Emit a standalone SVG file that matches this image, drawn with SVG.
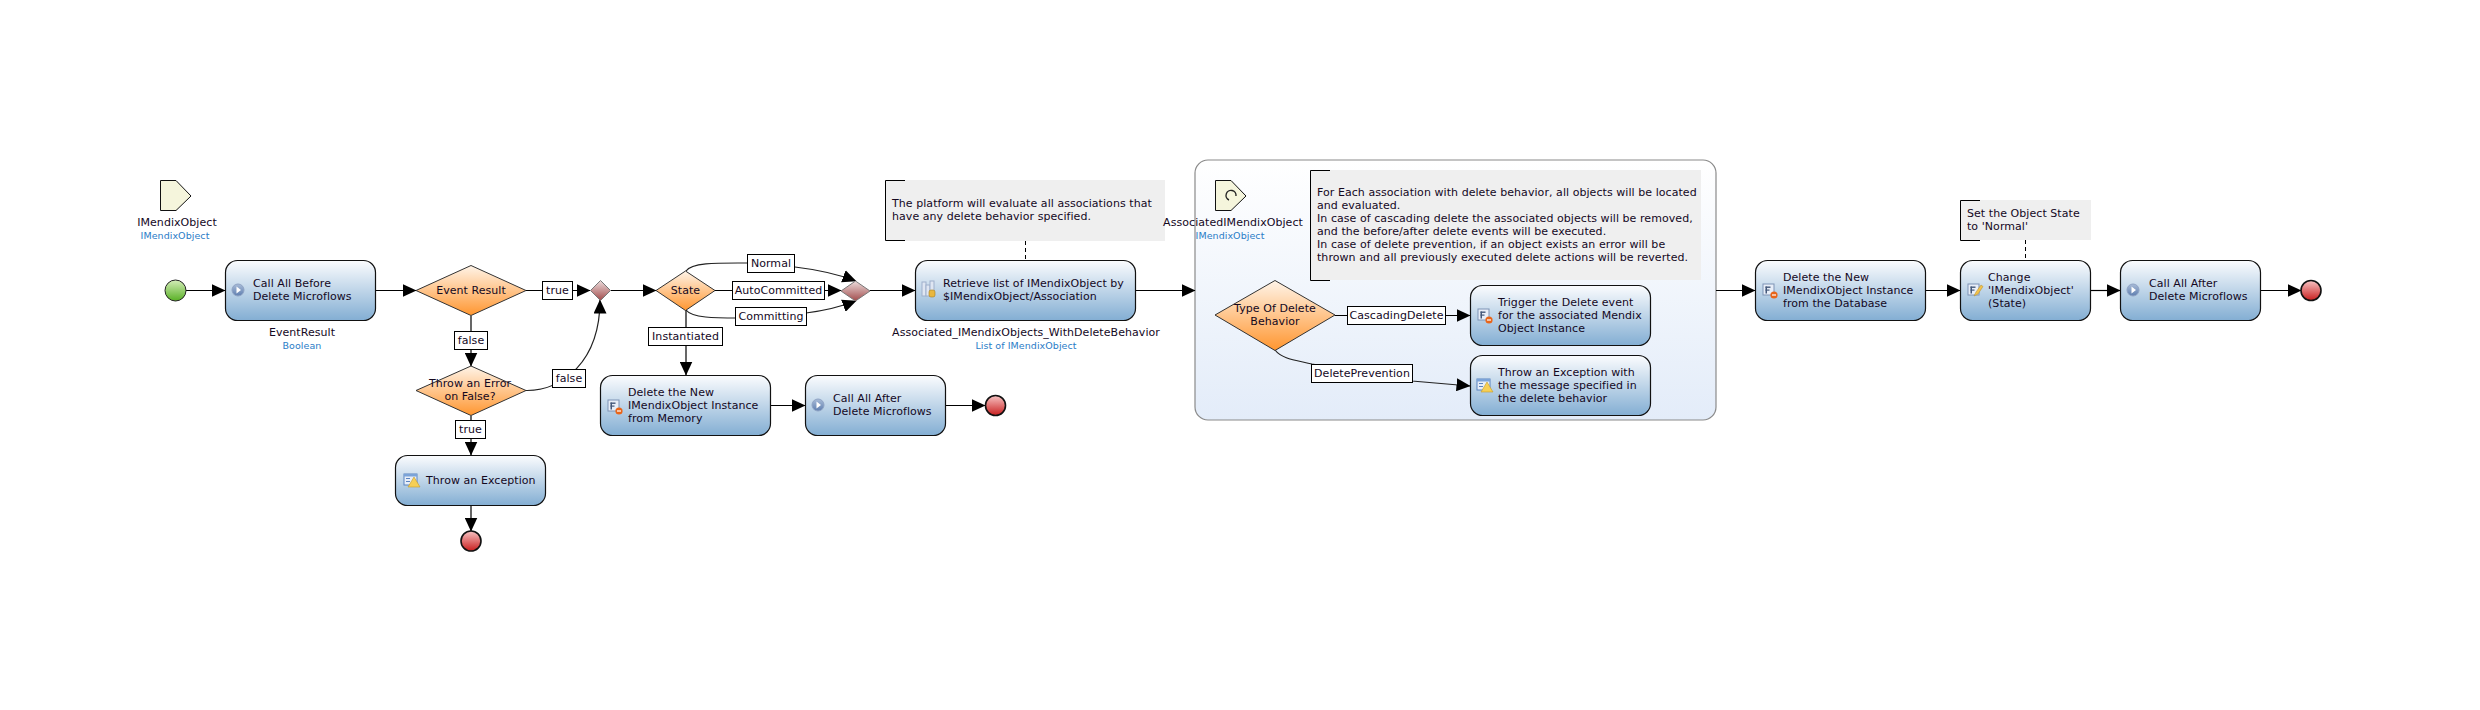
<svg xmlns="http://www.w3.org/2000/svg" width="2480" height="710" viewBox="0 0 2480 710">
<style>
text{font-family:"DejaVu Sans",sans-serif;font-size:11px;letter-spacing:.06px;fill:#14081e}
.c{text-anchor:middle}
.t{font-size:9.5px;fill:#2a7cc7;text-anchor:middle}
.act{fill:url(#ga);stroke:#111;stroke-width:1.2}
.dec{fill:url(#gd);stroke:#333;stroke-width:1}
.mrg{fill:url(#gm);stroke:#777;stroke-width:1}
.start{fill:url(#gs);stroke:#222;stroke-width:1}
.end{fill:url(#ge);stroke:#111;stroke-width:1.6}
.par{fill:#f5f5dc;stroke:#111;stroke-width:1}
.lab{fill:#fff;stroke:#000;stroke-width:1}
.note{fill:#efefef}
.br{fill:none;stroke:#000;stroke-width:1}
.e{fill:none;stroke:#000;stroke-width:1.2;marker-end:url(#arr)}
.cv{fill:none;stroke:#222;stroke-width:1.2;marker-end:url(#arr)}
.dash{stroke:#000;stroke-width:1;stroke-dasharray:4 3}
</style>
<defs>
<linearGradient id="ga" x1="0" y1="0" x2="0" y2="1"><stop offset="0" stop-color="#fbfcfe"/><stop offset="1" stop-color="#83aed3"/></linearGradient>
<linearGradient id="gd" x1="0" y1="0" x2="0" y2="1"><stop offset="0" stop-color="#fff4e8"/><stop offset="1" stop-color="#ff9630"/></linearGradient>
<linearGradient id="gm" x1="0" y1="0" x2="0" y2="1"><stop offset="0" stop-color="#ecdcdc"/><stop offset="1" stop-color="#a24c4c"/></linearGradient>
<linearGradient id="gs" x1="0" y1="0" x2="0" y2="1"><stop offset="0" stop-color="#d4edb8"/><stop offset="1" stop-color="#58b024"/></linearGradient>
<linearGradient id="ge" x1="0" y1="0" x2="0" y2="1"><stop offset="0" stop-color="#f8c4c4"/><stop offset="1" stop-color="#c81e1e"/></linearGradient>
<linearGradient id="gc" x1="0" y1="0" x2="0" y2="1"><stop offset="0" stop-color="#ffffff"/><stop offset="1" stop-color="#e3ecf9"/></linearGradient>
<linearGradient id="gi" x1="0" y1="0" x2="0" y2="1"><stop offset="0" stop-color="#a9bcd8"/><stop offset="1" stop-color="#5f7fb0"/></linearGradient>
<marker id="arr" markerUnits="userSpaceOnUse" markerWidth="14" markerHeight="13" refX="13.5" refY="6.5" orient="auto"><path d="M0 0L14 6.500L0 13Z" fill="#000"/></marker>
<g id="i-call"><circle r="6" fill="url(#gi)" stroke="#8fa3c4"/><path d="M-1.5-3.5L3 0L-1.5 3.5Z" fill="#fff"/></g>
<g id="i-doc"><rect x="-6" y="-6" width="11" height="11" fill="#e8eef8" stroke="#7f93b5"/><rect x="-3.5" y="-3.5" width="5" height="1.4" fill="#44587a"/><rect x="-3.5" y="-3.5" width="1.5" height="7" fill="#44587a"/><rect x="-3.5" y="-0.5" width="4" height="1.2" fill="#44587a"/></g>
<g id="i-del"><use href="#i-doc"/><circle cx="5" cy="5" r="3.6" fill="#e8651a"/><rect x="3" y="4.4" width="4" height="1.2" fill="#fff"/></g>
<g id="i-chg"><use href="#i-doc"/><path d="M0 6L2 2L7-5L9-3.5L4 4Z" fill="#f3c24a" stroke="#b08a2a" stroke-width=".5"/></g>
<g id="i-db"><rect x="-6" y="-8" width="4" height="14" fill="#dfe6f2" stroke="#9fb0cb"/><rect x="-2" y="-5" width="4" height="11" fill="#dfe6f2" stroke="#9fb0cb"/><rect x="2" y="-9" width="4" height="15" fill="#dfe6f2" stroke="#9fb0cb"/><rect x="1" y="0" width="6" height="7" rx="2" fill="#e9b73f" stroke="#a9801f" stroke-width=".6"/></g>
<g id="i-exc"><rect x="-7" y="-6" width="13" height="11" fill="#e8eef8" stroke="#5b84c0"/><rect x="-7" y="-6" width="13" height="2.5" fill="#7ba3d8"/><rect x="-5" y="-2" width="4" height="1" fill="#5b84c0"/><rect x="-5" y="1" width="4" height="1" fill="#5b84c0"/><path d="M3-3L9 7L-3 7Z" fill="#f6cf55" stroke="#c39a2c" stroke-width=".6"/></g>
</defs>

<g id="container"><rect x="1195" y="160" width="521" height="260" rx="13" fill="url(#gc)" stroke="#8a8a8a" stroke-width="1.2"/></g>

<g id="connectors">
<path class="e" d="M185 290.5H225"/>
<path class="e" d="M376 290.5H416"/>
<path class="e" d="M526 290.5H590"/>
<path class="e" d="M471 316V366"/>
<path class="e" d="M471 416V455"/>
<path class="e" d="M471 506V531"/>
<path class="cv" d="M526 390.5C562 391 600 362 600 300"/>
<path class="e" d="M611 290.5H656"/>
<path class="cv" d="M686 271C692 262 720 263 750 263L795 267C820 270 840 275 856 281"/>
<path class="e" d="M715 290.5H841"/>
<path class="cv" d="M686 310C692 318 715 318 738 318L806 313C822 311 840 307 856 301"/>
<path class="e" d="M686 310V375"/>
<path class="e" d="M870 290.5H915"/>
<path class="e" d="M771 405.5H805"/>
<path class="e" d="M946 405.5H985"/>
<path class="e" d="M1135 290.5H1195"/>
<path class="e" d="M1335 315.5H1470"/>
<path class="cv" d="M1275 350C1282 359 1295 360 1312 364L1412 381L1470 386"/>
<path class="e" d="M1716 290.5H1755"/>
<path class="e" d="M1926 290.5H1960"/>
<path class="e" d="M2091 290.5H2120"/>
<path class="e" d="M2260 290.5H2301"/>
<path class="dash" d="M1025.5 241V260"/>
<path class="dash" d="M2025.5 240V260"/>
<g id="edge-labels">
<rect class="lab" x="542.5" y="281.5" width="30" height="18"/><text class="c" x="557.5" y="294">true</text>
<rect class="lab" x="454.5" y="331.5" width="33" height="18"/><text class="c" x="471" y="344">false</text>
<rect class="lab" x="552.5" y="369.5" width="33" height="18"/><text class="c" x="569" y="382">false</text>
<rect class="lab" x="455.5" y="420.5" width="30" height="18"/><text class="c" x="470.5" y="433">true</text>
<rect class="lab" x="747.5" y="254.5" width="47" height="18"/><text class="c" x="771" y="267">Normal</text>
<rect class="lab" x="732.5" y="281.5" width="92" height="18"/><text class="c" x="778.5" y="294">AutoCommitted</text>
<rect class="lab" x="735.5" y="307.5" width="71" height="18"/><text class="c" x="771" y="320">Committing</text>
<rect class="lab" x="648.5" y="327.5" width="74" height="18"/><text class="c" x="685.5" y="340">Instantiated</text>
<rect class="lab" x="1347.5" y="306.5" width="98" height="18"/><text class="c" x="1396.5" y="319">CascadingDelete</text>
<rect class="lab" x="1311.5" y="364.5" width="101" height="18"/><text class="c" x="1362" y="377">DeletePrevention</text>
</g>
</g>

<g id="param-object"><path class="par" d="M160.5 180.5H176L191 196L176 210.5H160.5Z"/><text class="c" x="177" y="226">IMendixObject</text><text class="t" x="175" y="239">IMendixObject</text></g>
<g id="start"><circle class="start" cx="175.500" cy="290.500" r="10.500"/></g>
<g id="call-before"><rect class="act" x="225.5" y="260.5" width="150" height="60" rx="12"/><use href="#i-call" x="238" y="290"/><text x="253" y="287">Call All Before</text><text x="253" y="300">Delete Microflows</text><text class="c" x="302" y="336">EventResult</text><text class="t" x="302" y="349">Boolean</text></g>
<g id="dec-event"><path class="dec" d="M471 265.500L526 290.500L471 315.500L416 290.500Z"/><text class="c" x="471" y="294">Event Result</text></g>
<g id="merge-1"><path class="mrg" d="M600.500 280.500L610.500 290.500L600.500 300.500L590.500 290.500Z"/></g>
<g id="dec-throw"><path class="dec" d="M471 366L526 390.500L471 415.500L416 390.500Z"/><text class="c" x="470" y="387">Throw an Error</text><text class="c" x="470" y="400">on False?</text></g>
<g id="throw-exc"><rect class="act" x="395.500" y="455.500" width="150" height="50" rx="12"/><use href="#i-exc" x="411" y="480"/><text x="426" y="484">Throw an Exception</text></g>
<g id="end-1"><circle class="end" cx="471" cy="541" r="10"/></g>
<g id="dec-state"><path class="dec" d="M685.500 271L715 290.500L685.500 310.500L656 290.500Z"/><text class="c" x="685.500" y="294">State</text></g>
<g id="merge-2"><path class="mrg" d="M855.500 281L870 291L855.500 301L841 291Z"/></g>
<g id="delete-memory"><rect class="act" x="600.500" y="375.500" width="170" height="60" rx="12"/><use href="#i-del" x="614" y="406"/><text x="628" y="396">Delete the New</text><text x="628" y="409">IMendixObject Instance</text><text x="628" y="422">from Memory</text></g>
<g id="call-after-1"><rect class="act" x="805.500" y="375.500" width="140" height="60" rx="12"/><use href="#i-call" x="818" y="405"/><text x="833" y="402">Call All After</text><text x="833" y="415">Delete Microflows</text></g>
<g id="end-2"><circle class="end" cx="995.500" cy="405.500" r="10"/></g>
<g id="note-1"><rect class="note" x="885" y="180" width="280" height="61"/><path class="br" d="M905 180.500H885.500V240.500H905"/><text x="892" y="207">The platform will evaluate all associations that</text><text x="892" y="220">have any delete behavior specified.</text></g>
<g id="retrieve"><rect class="act" x="915.500" y="260.500" width="220" height="60" rx="12"/><use href="#i-db" x="928" y="290"/><text x="943" y="287">Retrieve list of IMendixObject by</text><text x="943" y="300">$IMendixObject/Association</text><text class="c" x="1026" y="336">Associated_IMendixObjects_WithDeleteBehavior</text><text class="t" x="1026" y="349">List of IMendixObject</text></g>
<g id="iterator"><path class="par" d="M1215.500 180.500H1231L1246 196L1231 210.500H1215.500Z"/><path d="M1236 196A5 5 0 1 0 1229 200" fill="none" stroke="#222" stroke-width="1.4"/><text class="c" x="1233" y="226">AssociatedIMendixObject</text><text class="t" x="1230" y="239">IMendixObject</text></g>
<g id="note-2"><rect class="note" x="1310" y="170" width="391" height="110"/><path class="br" d="M1330 170.500H1310.500V280.500H1330"/><text x="1317" y="196">For Each association with delete behavior, all objects will be located</text><text x="1317" y="209">and evaluated.</text><text x="1317" y="222">In case of cascading delete the associated objects will be removed,</text><text x="1317" y="235">and the before/after delete events will be executed.</text><text x="1317" y="248">In case of delete prevention, if an object exists an error will be</text><text x="1317" y="261">thrown and all previously executed delete actions will be reverted.</text></g>
<g id="dec-type"><path class="dec" d="M1275 280.500L1335 315L1275 350.500L1215 315Z"/><text class="c" x="1275" y="312">Type Of Delete</text><text class="c" x="1275" y="325">Behavior</text></g>
<g id="trigger"><rect class="act" x="1470.500" y="285.500" width="180" height="60" rx="12"/><use href="#i-del" x="1484" y="315"/><text x="1498" y="306">Trigger the Delete event</text><text x="1498" y="319">for the associated Mendix</text><text x="1498" y="332">Object Instance</text></g>
<g id="throw-msg"><rect class="act" x="1470.500" y="355.500" width="180" height="60" rx="12"/><use href="#i-exc" x="1484" y="385"/><text x="1498" y="376">Throw an Exception with</text><text x="1498" y="389">the message specified in</text><text x="1498" y="402">the delete behavior</text></g>
<g id="delete-db"><rect class="act" x="1755.500" y="260.500" width="170" height="60" rx="12"/><use href="#i-del" x="1769" y="290"/><text x="1783" y="281">Delete the New</text><text x="1783" y="294">IMendixObject Instance</text><text x="1783" y="307">from the Database</text></g>
<g id="note-3"><rect class="note" x="1960" y="200" width="131" height="40"/><path class="br" d="M1980 200.500H1960.500V240.500H1980"/><text x="1967" y="217">Set the Object State</text><text x="1967" y="230">to 'Normal'</text></g>
<g id="change"><rect class="act" x="1960.500" y="260.500" width="130" height="60" rx="12"/><use href="#i-chg" x="1974" y="290"/><text x="1988" y="281">Change</text><text x="1988" y="294">'IMendixObject'</text><text x="1988" y="307">(State)</text></g>
<g id="call-after-2"><rect class="act" x="2120.500" y="260.500" width="140" height="60" rx="12"/><use href="#i-call" x="2133" y="290"/><text x="2149" y="287">Call All After</text><text x="2149" y="300">Delete Microflows</text></g>
<g id="end-3"><circle class="end" cx="2311" cy="290.500" r="10"/></g>
</svg>
